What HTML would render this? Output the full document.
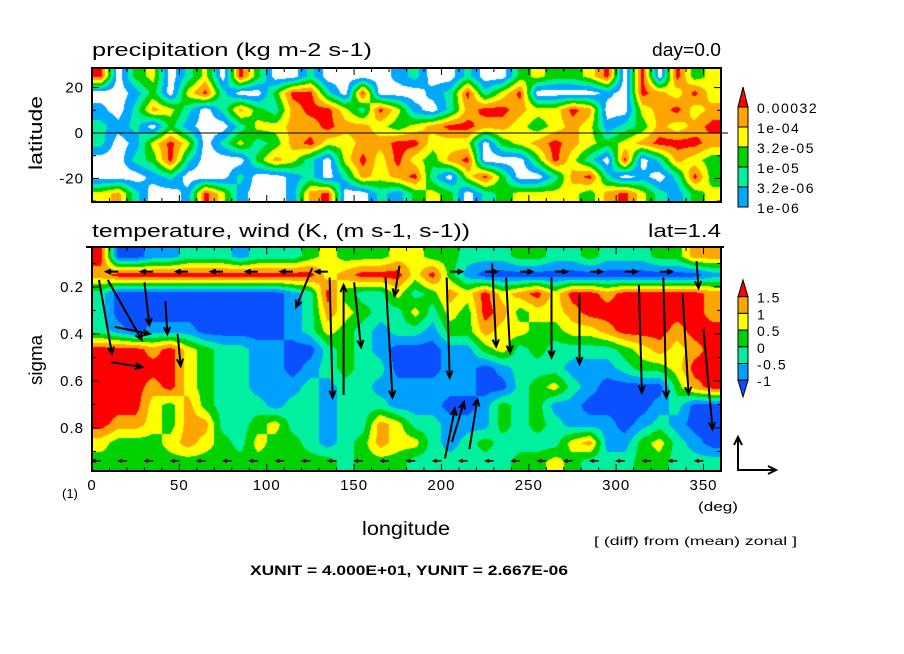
<!DOCTYPE html>
<html><head><meta charset="utf-8">
<style>
html,body{margin:0;padding:0;background:#fff;}
#wrap{position:relative;width:904px;height:654px;overflow:hidden;font-family:"Liberation Sans",sans-serif;}
canvas{position:absolute;}
svg{position:absolute;left:0;top:0;}
</style></head>
<body>
<div id="wrap">
<canvas id="cTop" width="629" height="134" style="left:92px;top:68px"></canvas>
<canvas id="cBot" width="629" height="224" style="left:92px;top:247px"></canvas>
<svg id="ov" width="904" height="654"></svg>
</div>
<script>
// ---- data: precipitation level index per 10deg longitude bin (rows north->south) ----
const precipRows = [
"603402406300200001200200343346060634",
"001304620036620600012624600001065464",
"102542025325664264102566544650045645",
"212031002445565543456655434541235456",
"201464024235644556644403456543456665",
"002362000354204646435600036420602543",
"000120002001202545620463002562010263",
"452001641001560021343023444435642134"
];
const precipLevels = ["1e-06","3.2e-06","1e-05","3.2e-05","1e-04","0.00032"];
const precipColors = ["#ffffff","#00a8ff","#00f0a0","#00d200","#ffff00","#ffa500","#ff0000"];
// ---- temperature diff level index (rows top sigma -> bottom) ----
const tempRows = [
"600112221222343334433222332232223355",
"566666666666645666463100000000000001",
"200000000001263224235464564665666665",
"200000000001254322424365344566666665",
"210111000001243212213354433445666566",
"666564322110023210001134232222345456",
"666664322110123220001101222111233466",
"666564322111212211111100234210000356",
"666435322212212221110013231100001200",
"655435522342212254221113232111012100",
"433345432433212354421232222451134210",
"333333333333332333222222334322233222"
];
const tempLevels = ["-1","-0.5","0","0.5","1","1.5"];
const tempColors = ["#0a50ff","#00a0ff","#00f0a0","#00d200","#ffff00","#ffa500","#ff0000"];
// ---- wind vectors (longitude deg, sigma, u, v in plot px) ----
const vecLon  = [4,9,13,11,30,42,49,126,136,144,150,168,176,203,206,229,237,263,279,313,327,338,346,350,202,216];
const vecSig  = [0.17,0.17,0.37,0.52,0.18,0.26,0.40,0.12,0.16,0.66,0.18,0.16,0.11,0.16,0.86,0.10,0.16,0.16,0.23,0.19,0.16,0.23,0.09,0.38,0.93,0.89];
const vecU    = [13,34,35,31,5,2,3,-16,3,0,7,7,-5,3,12,4,4,0,0,3,3,6,2,9,10,8];
const vecV    = [74,60,7,5,43,33,32,39,120,-110,65,120,30,100,-40,83,75,80,70,108,120,100,27,100,-50,-50];
const bandLon = [15,35,55,75,95,115,135,205,225,245,265,285,305,325];
const bandDir = [-1,-1,-1,-1,-1,-1,-1,1,1,1,1,1,1,1];
const xTicks = [0,50,100,150,200,250,300,350];
const latTicks = [20,0,-20];
const sigTicks = [0.2,0.4,0.6,0.8];

function drawField(id, rows, colors, bias){
  const cv=document.getElementById(id), ctx=cv.getContext('2d');
  const W=cv.width,H=cv.height,nr=rows.length,nc=rows[0].length;
  const g=rows.map(r=>r.split('').map(Number));
  const img=ctx.createImageData(W,H);
  const rgb=colors.map(c=>[parseInt(c.substr(1,2),16),parseInt(c.substr(3,2),16),parseInt(c.substr(5,2),16)]);
  for(let y=0;y<H;y++){
    let gy=Math.min(Math.max((y+0.5)/H*nr-0.5,0),nr-1);let y0=Math.floor(gy),y1=Math.min(y0+1,nr-1),fy=gy-y0;
    for(let x=0;x<W;x++){
      let gx=Math.min(Math.max((x+0.5)/W*nc-0.5,0),nc-1);let x0=Math.floor(gx),x1=Math.min(x0+1,nc-1),fx=gx-x0;
      const v=g[y0][x0]*(1-fx)*(1-fy)+g[y0][x1]*fx*(1-fy)+g[y1][x0]*(1-fx)*fy+g[y1][x1]*fx*fy;
      const c=rgb[Math.max(0,Math.min(6,Math.floor(v+bias)))];
      const i=(y*W+x)*4;img.data[i]=c[0];img.data[i+1]=c[1];img.data[i+2]=c[2];img.data[i+3]=255;
    }
  }
  ctx.putImageData(img,0,0);
}
drawField('cTop',precipRows,precipColors,0.4);
drawField('cBot',tempRows,tempColors,0.5);

const NS='http://www.w3.org/2000/svg', sv=document.getElementById('ov');
function el(t,a,p){const e=document.createElementNS(NS,t);for(const k in a)e.setAttribute(k,a[k]);(p||sv).appendChild(e);return e;}
function txt(s,x,y,size,anchor,name,extra,len){const a=Object.assign({x:x,y:y,'font-size':size,'text-anchor':anchor||'start','font-family':'Liberation Sans, sans-serif'},extra||{});
if(len){a.textLength=len;a.lengthAdjust='spacingAndGlyphs';}
const t=el('text',a);t.textContent=s;


return t;}
const X0=92,X1=721;
const xs=lon=>X0+(X1-X0)*lon/360;
const yLat=lat=>133-lat*2.27;
const ySig=s=>247+(s-0.03)*235;

const f1=el('rect',{x:92,y:68,width:629,height:134,fill:'none',stroke:'#000','stroke-width':2});


const f2=el('rect',{x:92,y:247,width:629,height:224,fill:'none',stroke:'#000','stroke-width':2});


const eq=el('line',{x1:92,y1:133,x2:728,y2:133,stroke:'#000','stroke-width':1});


el('line',{x1:86,y1:247,x2:724,y2:247,stroke:'#000','stroke-width':2});

for(let l=0;l<=360;l+=10){
  const x=xs(l),len=(l%50===0)?7:4;
  el('line',{x1:x,y1:68,x2:x,y2:68+len,stroke:'#000'});el('line',{x1:x,y1:202,x2:x,y2:202-len,stroke:'#000'});
  el('line',{x1:x,y1:247,x2:x,y2:247+len,stroke:'#000'});el('line',{x1:x,y1:471,x2:x,y2:471-len,stroke:'#000'});
}
xTicks.forEach(l=>{const s=String(l);txt(s,xs(l),490,15,'middle','x-tick-label',{'letter-spacing':1});});
for(let la=-30;la<=20;la+=10){const y=yLat(la),len=la%20===0?7:4;el('line',{x1:92,y1:y,x2:92+len,y2:y,stroke:'#000'});el('line',{x1:721,y1:y,x2:721-len,y2:y,stroke:'#000'});}
latTicks.forEach(la=>txt(String(la),84,yLat(la)+5,15,'end','lat-tick-label',{'letter-spacing':1}));
for(let s=0.1;s<0.99;s+=0.1){const y=ySig(s),len=Math.round(s*10)%2===0?7:4;el('line',{x1:92,y1:y,x2:92+len,y2:y,stroke:'#000'});el('line',{x1:721,y1:y,x2:721-len,y2:y,stroke:'#000'});}
sigTicks.forEach(s=>txt(String(s),84,ySig(s)+5,15,'end','sigma-tick-label',{'letter-spacing':1}));

txt('precipitation (kg m-2 s-1)',92,56,18,'start','top-title',null,280);
txt('day=0.0',721,56,18,'end','top-day-label',null,69);
txt('temperature, wind (K, (m s-1, s-1))',92,237,18,'start','bottom-title',null,378);
txt('lat=1.4',721,237,18,'end','bottom-lat-label',null,73);
txt('latitude',42,133,18,'middle','latitude-axis-title',{transform:'rotate(-90 42 133)'},74);
txt('sigma',42,360,18,'middle','sigma-axis-title',{transform:'rotate(-90 42 360)'},50);
txt('longitude',406,535,19,'middle','longitude-axis-title',null,88);
txt('(1)',62,498,13,'start','panel-number');
txt('(deg)',698,511,13,'start','x-unit-label',null,40);
txt('[ (diff) from (mean) zonal ]',594,545,12,'start','diff-note',null,203);
txt('XUNIT = 4.000E+01, YUNIT = 2.667E-06',250,575,14,'start','vector-unit-note',{'font-weight':'bold'},318);

function cbar(x,yTop,box,colors,labels,lowerTri,name){
  const g=el('g',{});
  
  
  const w=10,n=labels.length-1;
  el('polygon',{points:`${x},${yTop+box} ${x+w},${yTop+box} ${x+w/2},${yTop}`,fill:colors[6],stroke:'#000'},g);
  for(let i=0;i<n;i++){const y=yTop+box+i*box;el('rect',{x:x,y:y,width:w,height:box,fill:colors[5-i],stroke:'#000'},g);}
  const yb=yTop+box+n*box;
  if(lowerTri)el('polygon',{points:`${x},${yb} ${x+w},${yb} ${x+w/2},${yb+box}`,fill:colors[0],stroke:'#000'},g);
  labels.slice().reverse().forEach((s,i)=>{const t=txt(s,x+19,yTop+box+i*box+6,14,'start','colorbar-label',{'letter-spacing':1.5});g.appendChild(t);});
}
cbar(738,87,20,precipColors,precipLevels,false,'precip-colorbar');
cbar(738,280,16.7,tempColors,tempLevels,true,'temp-colorbar');

function arrow(x,y,u,v,name,w){
  const g=el('g',{});
  
  
  const x2=x+u,y2=y+v,L=Math.hypot(u,v)||1,ux=u/L,uy=v/L,h=Math.min(7,L*0.4);
  el('line',{x1:x,y1:y,x2:x2,y2:y2,stroke:'#000','stroke-width':w||2},g);
  el('polyline',{points:`${x2-h*ux+h*0.45*uy},${y2-h*uy-h*0.45*ux} ${x2},${y2} ${x2-h*ux-h*0.45*uy},${y2-h*uy+h*0.45*ux}`,fill:'none',stroke:'#000','stroke-width':w||2},g);
}
vecLon.forEach((l,i)=>arrow(xs(l),ySig(vecSig[i]),vecU[i],vecV[i],'wind-vector'));
bandLon.forEach((l,i)=>arrow(xs(l),ySig(0.135),bandDir[i]*12,0,'band-wind-vector'));
for(let l=5;l<360;l+=15){arrow(xs(l),ySig(0.94),-8,0,'surface-wind-vector',1.5);}
const uv=el('g',{});


el('polyline',{points:'738,437 738,470 776,470',fill:'none',stroke:'#000','stroke-width':2},uv);
el('polyline',{points:'734,445 738,437 742,445',fill:'none',stroke:'#000','stroke-width':2},uv);
el('polyline',{points:'768,466 776,470 768,474',fill:'none',stroke:'#000','stroke-width':2},uv);
</script>
</body></html>
